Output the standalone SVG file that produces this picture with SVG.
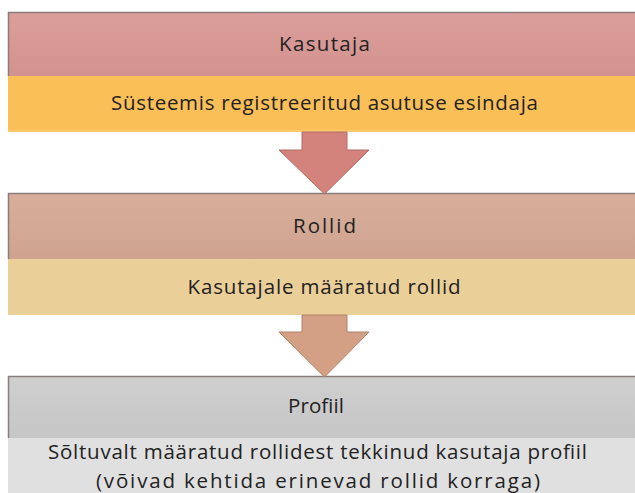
<svg xmlns="http://www.w3.org/2000/svg" width="635" height="493" viewBox="0 0 635 493">
  <defs>
    <linearGradient id="gHead1" x1="0" y1="0" x2="0" y2="1">
      <stop offset="0" stop-color="#dc9f9b"/>
      <stop offset="1" stop-color="#d3928f"/>
    </linearGradient>
    <linearGradient id="gHead2" x1="0" y1="0" x2="0" y2="1">
      <stop offset="0" stop-color="#d8ae9a"/>
      <stop offset="1" stop-color="#cfa38f"/>
    </linearGradient>
    <linearGradient id="gHead3" x1="0" y1="0" x2="0" y2="1">
      <stop offset="0" stop-color="#cfcfcf"/>
      <stop offset="1" stop-color="#c6c6c6"/>
    </linearGradient>
  </defs>
  <style>
    .lbl { font-family: "Open Sans", "Liberation Sans", sans-serif; font-size: 20.5px; fill: #222222; text-anchor: middle; }
    .edge { stroke: #8a7d7d; stroke-width: 1.5; fill: none; }
    .arrow { stroke-width: 1; stroke-linejoin: miter; }
  </style>

  <!-- Level 1: user -->
  <g id="kasutaja">
    <rect x="8" y="12" width="640" height="64" fill="url(#gHead1)"/>
    <rect x="8" y="76" width="640" height="56" fill="#fbbf58"/>
    <rect x="8" y="130" width="640" height="2" fill="#fcc96e"/>
    <path class="edge" d="M8.5,76 V12.5 H640"/>
    <text class="lbl" x="324.5" y="51" textLength="91" lengthAdjust="spacing">Kasutaja</text>
    <text class="lbl" x="324.5" y="110" textLength="427" lengthAdjust="spacing">Süsteemis registreeritud asutuse esindaja</text>
  </g>

  <!-- Level 2: roles -->
  <g id="rollid">
    <rect x="8" y="193" width="640" height="66" fill="url(#gHead2)"/>
    <rect x="8" y="259" width="640" height="56" fill="#ebcf99"/>
    <path class="edge" d="M8.5,259 V193.5 H640"/>
    <text class="lbl" x="324.5" y="233" textLength="63" lengthAdjust="spacing">Rollid</text>
    <text class="lbl" x="324" y="294" textLength="273" lengthAdjust="spacing">Kasutajale määratud rollid</text>
  </g>

  <!-- Level 3: profile -->
  <g id="profiil">
    <rect x="8" y="376" width="640" height="62" fill="url(#gHead3)"/>
    <rect x="8" y="438" width="640" height="55" fill="#e0e0e0"/>
    <path class="edge" d="M8.5,438 V376.5 H640" stroke="#888888"/>
    <text class="lbl" x="316" y="413" textLength="56" lengthAdjust="spacing">Profiil</text>
    <text class="lbl" x="317.5" y="459" textLength="539" lengthAdjust="spacing">Sõltuvalt määratud rollidest tekkinud kasutaja profiil</text>
    <text class="lbl" x="318" y="488" textLength="444" lengthAdjust="spacing">(võivad kehtida erinevad rollid korraga)</text>
  </g>

  <!-- Block arrows between levels -->
  <g id="connectors">
    <path class="arrow" d="M302,132 V150 H279 L324.5,194 L369,150 H347 V132 Z" fill="#d4837c" stroke="#b06a64"/>
    <path class="arrow" d="M302,315 V332 H279 L324.5,377 L369,332 H347 V315 Z" fill="#d3a085" stroke="#ae806a"/>
  </g>
</svg>
